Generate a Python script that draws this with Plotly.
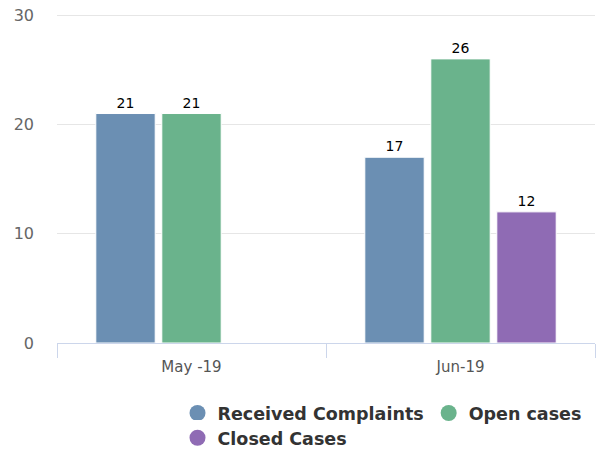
import plotly.graph_objects as go

months = ["May-19", "Jun-19"]
month_labels = ["May -19", "Jun-19"]
received = [21, 17]
open_cases = [21, 26]
closed = [None, 12]
y_ticks = [0, 10, 20, 30]

series = [
    ("Received Complaints", received, "#6b8fb3", "legend"),
    ("Open cases", open_cases, "#6ab38c", "legend"),
    ("Closed Cases", closed, "#8f6bb4", "legend2"),
]

FONT = "DejaVu Sans, Liberation Sans, Arial, sans-serif"

fig = go.Figure()

for name, vals, color, leg in series:
    fig.add_trace(go.Bar(
        x=months,
        y=vals,
        name=name,
        legendgroup=name,
        showlegend=False,
        marker=dict(color=color, line=dict(color="white", width=1)),
        text=[str(v) if v is not None else "" for v in vals],
        textposition="outside",
        textfont=dict(size=14, color="#000000"),
        cliponaxis=False,
    ))
    # circle symbol for the legend
    fig.add_trace(go.Scatter(
        x=[None], y=[None],
        mode="markers",
        name=name,
        legendgroup=name,
        legend=leg,
        marker=dict(symbol="circle", size=16, color=color),
    ))

legend_font = dict(family=FONT, size=17.5, color="#333333", weight="bold")

fig.update_layout(
    width=605,
    height=449,
    margin=dict(l=57, r=10, t=13, b=106, autoexpand=False),
    paper_bgcolor="white",
    plot_bgcolor="white",
    font=dict(family=FONT, color="#666666"),
    barmode="group",
    bargap=0.264,
    bargroupgap=0.1,
    showlegend=True,
    legend=dict(
        orientation="h",
        x=0.224,
        xanchor="left",
        y=-0.158,
        yanchor="top",
        font=legend_font,
        itemsizing="trace",
    ),
    legend2=dict(
        orientation="h",
        x=0.224,
        xanchor="left",
        y=-0.233,
        yanchor="top",
        font=legend_font,
        itemsizing="trace",
    ),
)

fig.update_xaxes(
    tickvals=months,
    ticktext=month_labels,
    tickson="boundaries",
    ticks="outside",
    ticklen=14,
    tickcolor="#ccd6eb",
    showline=True,
    linecolor="#ccd6eb",
    linewidth=1,
    showgrid=False,
    ticklabelstandoff=10,
    tickfont=dict(size=15, color="#555555"),
)
# range a touch above 30 so the top gridline is not dropped at the edge
fig.update_yaxes(
    range=[0, 30.2],
    tickvals=y_ticks,
    showgrid=True,
    gridcolor="#e6e6e6",
    zeroline=False,
    showline=False,
    ticklabelstandoff=22,
    tickfont=dict(size=16, color="#666666"),
)

fig.write_html(
    "out.html",
    config={"displayModeBar": False},
    post_script="document.body.style.margin='0px';",
)
